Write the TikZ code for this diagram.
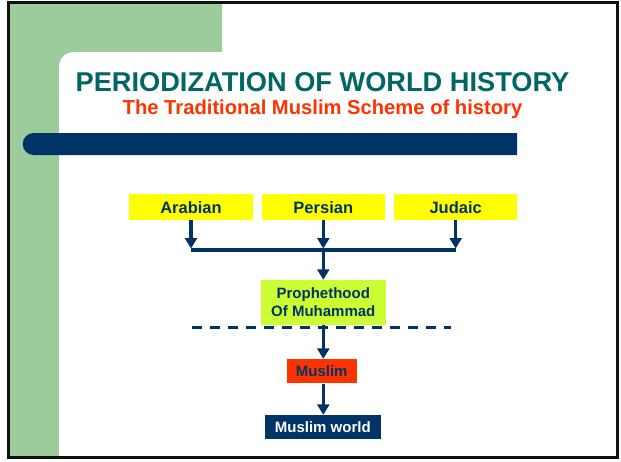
\documentclass[tikz,border=0pt]{standalone}
\usepackage{fontspec}
\setmainfont{Liberation Sans}
\usetikzlibrary{arrows.meta}

\definecolor{navy}{HTML}{003366}
\definecolor{teal}{HTML}{006666}
\definecolor{hotred}{HTML}{FF3300}
\definecolor{panel}{HTML}{9CCC9C}
\definecolor{lemon}{HTML}{FFFF00}
\definecolor{lime}{HTML}{CCFF33}
\definecolor{frame}{HTML}{111111}

\begin{document}
\begin{tikzpicture}[x=1pt,y=-1pt,
  txt/.style={inner sep=0pt, text=navy},
  topbox/.style={txt, minimum width=123.4pt, minimum height=25.7pt, fill=lemon,
    font=\bfseries\fontsize{16.5}{18}\selectfont},
  midbox/.style={txt, font=\bfseries\fontsize{15}{18.4}\selectfont, align=center},
  flow/.style={draw=navy, line width=3.2pt, shorten >=1.5pt,
    -{Triangle[width=12pt,length=10.5pt]}},
  bus/.style={draw=navy, line width=3.2pt},
  divider/.style={draw=navy, line width=2.7pt, dash pattern=on 10pt off 8pt}]

\useasboundingbox (0,0) rectangle (621,461);

% slide background: green band with white content area
\fill[panel] (9,2) rectangle (222,457);
\fill[white] (59,457) [rounded corners=15pt] -- (59,52) [sharp corners] -- (617,52) -- (617,457) -- cycle;

% navy rule under the title
\fill[navy] (517,133) [rounded corners=11pt] -- (22.7,133) -- (22.7,155) [sharp corners] -- (517,155) -- cycle;

% outer frame
\draw[frame, line width=3pt] (8.5,2) rectangle (617.5,457.5);

% titles
\node[anchor=base, inner sep=0pt, text=teal, font=\bfseries\fontsize{27.2}{30}\selectfont]
  (title) at (322.5,91) {PERIODIZATION OF WORLD HISTORY};
\node[anchor=base, inner sep=0pt, text=hotred, font=\bfseries\fontsize{20.2}{24}\selectfont]
  (subtitle) at (322.5,114.3) {The Traditional Muslim Scheme of history};

% sources
\node[topbox] (arab) at (191,207.2) {Arabian};
\node[topbox] (pers) at (323.3,207.2) {Persian};
\node[topbox] (jud) at (455.7,207.2) {Judaic};

% sequence of boxes
\node[midbox, fill=lime, minimum width=124.7pt, minimum height=44.7pt]
  (proph) at (323.3,302.3) {Prophethood\\Of Muhammad};
\node[midbox, fill=hotred, minimum width=70pt, minimum height=24.3pt]
  (musl) at (321.7,371.2) {Muslim};
\node[midbox, fill=navy, text=white, minimum width=115.7pt, minimum height=24.3pt]
  (world) at (322.8,427.2) {Muslim world};

% connectors
\coordinate (busy) at (0,250);
\coordinate (axis) at (323.3,0);
\draw[flow] (arab.south) -- (arab.south |- busy);
\draw[flow] (pers.south) -- (pers.south |- busy);
\draw[flow] (jud.south) -- (jud.south |- busy);
\draw[bus] (arab.south |- busy) -- (jud.south |- busy);
\draw[flow, shorten >=0pt] (pers.south |- busy) -- (proph.north);

\coordinate (dl) at (191.7,327.3);
\coordinate (dr) at (451,327.3);
\draw[divider] (dl) -- (dr);

\draw[flow, shorten >=0pt] (proph.south) -- (axis |- musl.north);
\draw[flow, shorten >=0pt] (axis |- musl.south) -- (axis |- world.north);
\end{tikzpicture}
\end{document}
